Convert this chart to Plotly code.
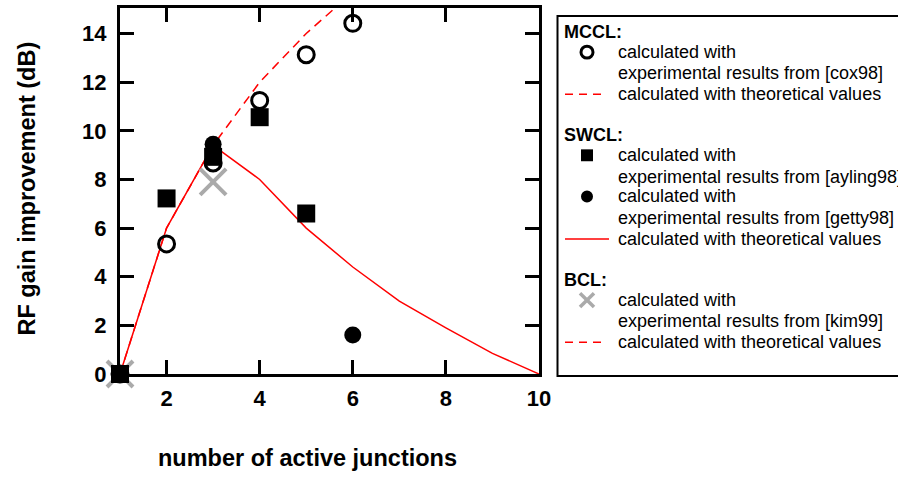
import plotly.graph_objects as go

# ---------------- data ----------------
junctions = [1, 2, 3, 4, 5, 6, 7, 8, 9, 10]
swcl_theory = [0, 6.0, 9.4, 8.0, 6.0, 4.4, 3.0, 1.9, 0.85, 0]

mccl_theory_x = [1, 2, 3, 4, 5, 6]
mccl_theory = [0, 6.0, 9.4, 12.0, 14.0, 15.7]

cox98_x = [1, 2, 3, 4, 5, 6]
cox98_y = [0, 5.35, 8.68, 11.25, 13.13, 14.42]

ayling98_x = [1, 2, 3, 4, 5]
ayling98_y = [0, 7.22, 8.93, 10.56, 6.6]

getty98_x = [1, 3, 6]
getty98_y = [0, 9.45, 1.6]

kim99_x = [1, 3]
kim99_y = [0, 7.9]

x_ticks = [2, 4, 6, 8, 10]
y_ticks = [0, 2, 4, 6, 8, 10, 12, 14]

FONT = "Arial, Liberation Sans, sans-serif"
W, H = 898, 477
ML, MR, MT, MB = 120, 359, 5, 103
PW, PH = W - ML - MR, H - MT - MB


def px(xp):
    return (xp - ML) / PW


def py(yp):
    return 1 - (yp - MT) / PH


fig = go.Figure()

# theoretical lines
fig.add_trace(go.Scatter(x=mccl_theory_x, y=mccl_theory, mode="lines",
                         line=dict(color="red", width=1.5, dash="9px,6px"),
                         showlegend=False))
fig.add_trace(go.Scatter(x=junctions, y=swcl_theory, mode="lines",
                         line=dict(color="red", width=1.5),
                         showlegend=False))

# BCL kim99
fig.add_trace(go.Scatter(x=kim99_x, y=kim99_y, mode="markers",
                         marker=dict(symbol="x-thin", size=26, color="#aaaaaa",
                                     line=dict(color="#aaaaaa", width=4)),
                         cliponaxis=False, showlegend=False))
# MCCL cox98
fig.add_trace(go.Scatter(x=cox98_x, y=cox98_y, mode="markers",
                         marker=dict(symbol="circle-open", size=16, color="black",
                                     line=dict(color="black", width=3)),
                         cliponaxis=False, showlegend=False))
# SWCL ayling98
fig.add_trace(go.Scatter(x=ayling98_x, y=ayling98_y, mode="markers",
                         marker=dict(symbol="square", size=18, color="black",
                                     line=dict(width=0)),
                         cliponaxis=False, showlegend=False))
# SWCL getty98
fig.add_trace(go.Scatter(x=getty98_x, y=getty98_y, mode="markers",
                         marker=dict(symbol="circle", size=17, color="black",
                                     line=dict(width=0)),
                         cliponaxis=False, showlegend=False))

shapes = []
annotations = []

# legend box
shapes.append(dict(type="rect", xref="paper", yref="paper",
                   x0=px(557.5), x1=px(910), y0=py(13), y1=py(376),
                   line=dict(color="black", width=2), fillcolor="rgba(0,0,0,0)"))

TX = 616.5
HX = 562.5
SX = 587
LFS = 18


def text(xp, yp, s, bold=False):
    annotations.append(dict(xref="paper", yref="paper", x=px(xp), y=py(yp),
                            text=("<b>%s</b>" % s) if bold else s,
                            showarrow=False, xanchor="left", yanchor="middle",
                            xshift=-1,
                            font=dict(family=FONT, size=LFS, color="black")))


def hline(x0, x1, yp, dash):
    shapes.append(dict(type="line", xref="paper", yref="paper",
                       x0=px(x0), x1=px(x1), y0=py(yp), y1=py(yp),
                       line=dict(color="red", width=1.5, dash=dash)))


# MCCL
text(HX, 29.5, "MCCL:", True)
shapes.append(dict(type="circle", xref="paper", yref="paper",
                   x0=px(SX - 6), x1=px(SX + 6), y0=py(49.5 + 6), y1=py(49.5 - 6),
                   line=dict(color="black", width=3)))
text(TX, 49.5, "calculated with")
text(TX, 71, "experimental results from [cox98]")
hline(565, 603, 92, "8px,6px")
text(TX, 92, "calculated with theoretical values")

# SWCL
text(HX, 133.5, "SWCL:", True)
shapes.append(dict(type="rect", xref="paper", yref="paper",
                   x0=px(SX - 6), x1=px(SX + 6), y0=py(153.5 + 6), y1=py(153.5 - 6),
                   line=dict(width=0), fillcolor="black"))
text(TX, 153.5, "calculated with")
text(TX, 175, "experimental results from [ayling98]")
shapes.append(dict(type="circle", xref="paper", yref="paper",
                   x0=px(SX - 6), x1=px(SX + 6), y0=py(195 + 6), y1=py(195 - 6),
                   line=dict(width=0), fillcolor="black"))
text(TX, 195, "calculated with")
text(TX, 217, "experimental results from [getty98]")
hline(565, 609, 238, "solid")
text(TX, 238, "calculated with theoretical values")

# BCL
text(HX, 279.5, "BCL:", True)
for (a, b, c, d) in [(-7, -7, 7, 7), (-7, 7, 7, -7)]:
    shapes.append(dict(type="line", xref="paper", yref="paper",
                       x0=px(SX + a), y0=py(299.5 + b), x1=px(SX + c), y1=py(299.5 + d),
                       line=dict(color="#aaaaaa", width=3.5)))
text(TX, 299.5, "calculated with")
text(TX, 321, "experimental results from [kim99]")
hline(565, 603, 342, "8px,6px")
text(TX, 342, "calculated with theoretical values")

# axis titles
annotations.append(dict(xref="paper", yref="paper", x=px(307), y=py(459),
                        text="<b>number of active junctions</b>", showarrow=False,
                        xanchor="center", yanchor="middle",
                        font=dict(family=FONT, size=23.5, color="black")))
annotations.append(dict(xref="paper", yref="paper", x=px(27), y=py(187),
                        text="<b>RF gain improvement (dB)</b>", showarrow=False,
                        textangle=-90, xanchor="center", yanchor="middle",
                        font=dict(family=FONT, size=23.5, color="black")))

axis_common = dict(showline=True, linecolor="black", linewidth=3, mirror="allticks",
                   ticks="inside", ticklen=14, tickwidth=3, tickcolor="black",
                   showgrid=False, zeroline=False,
                   tickfont=dict(family=FONT, size=22, color="black"))

fig.update_layout(
    width=W, height=H,
    margin=dict(l=ML, r=MR, t=MT, b=MB, pad=0),
    paper_bgcolor="white", plot_bgcolor="white",
    showlegend=False,
    xaxis=dict(range=[1, 10], tickvals=x_ticks,
               ticktext=["<b>%d</b>" % v for v in x_ticks],
               ticklabelstandoff=3, **axis_common),
    yaxis=dict(range=[0, 15.05], tickvals=y_ticks,
               ticktext=["<b>%d</b>" % v for v in y_ticks],
               ticklabelstandoff=6, **axis_common),
    shapes=shapes,
    annotations=annotations,
)

fig.write_html("out.html", config={"displayModeBar": False},
               post_script="document.body.style.margin='0px';document.body.style.overflow='hidden';")
